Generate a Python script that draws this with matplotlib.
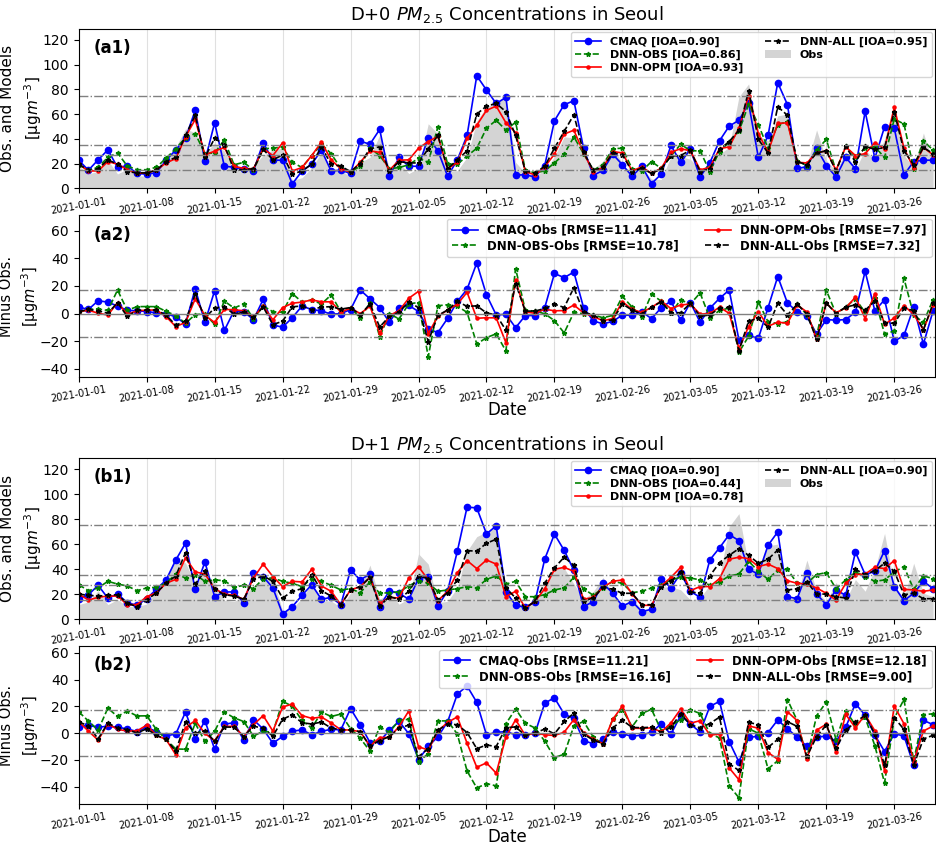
"""
D+0 / D+1 PM2.5 forecasts in Seoul: models vs. observations
"""

import numpy as np
import pandas as pd
import matplotlib
matplotlib.use('Agg')
import matplotlib.pyplot as plt

# daily observations 2021-01-01 .. 2021-03-31
obs = [18, 11.6, 13.7, 22.7, 11.6, 15.6, 10, 9.9, 12, 22.7,
       33.4, 48, 45, 28.3, 36.4, 30, 15, 14, 18.4, 26.6,
       31, 32.5, 6.5, 8.5, 16.6, 28.8, 14.5, 14.6, 9.1, 21,
       25, 43.2, 16, 20.6, 11.9, 16.3, 52.2, 44, 13.1, 14.2,
       25.1, 54.4, 66, 69.6, 74, 21, 12.2, 10.6, 14.1, 25.6,
       41.6, 40.8, 28.1, 15.6, 22, 33.3, 20, 11, 16.4, 7.5,
       7.1, 25.6, 25.8, 23.4, 15.4, 16.7, 27.4, 33.3, 74, 84.4,
       43, 38.4, 58.6, 60, 14.8, 19.3, 47.2, 22.7, 14, 29.3,
       14.7, 31.6, 22.3, 39.7, 68.6, 26.6, 16.8, 44.7, 20.7, 18]

# D+0 forecasts, 2021-01-01 .. 2021-03-30
d0_cmaq = [22.7, 14.6, 23, 31, 17, 18, 12, 11.4, 12.5, 22.7,
           31, 40.5, 63, 22, 53, 17.8, 17, 15.5, 14, 36.8,
           22.7, 22.7, 3.5, 14, 19.5, 30.8, 14, 14.6, 12, 38,
           35.7, 47.6, 9.7, 25, 17.8, 17.8, 41, 30.3, 9.7, 23,
           42.7, 91, 79.5, 68.6, 73.5, 10.8, 10.8, 9.2, 18.4, 54.6,
           67.6, 70.8, 32.4, 10.3, 14.6, 27.6, 19, 9.7, 17.8, 3.8,
           11.4, 34.6, 21, 31.4, 9.2, 20.5, 38.4, 50.3, 55, 68.6,
           25, 42.7, 85.4, 67.6, 16.2, 17.3, 32.4, 18.4, 9.2, 25,
           15.7, 62.2, 24.3, 49.7, 48.6, 10.8, 21.6, 22.7, 22.7]
d0_dnn_obs = [19, 14.6, 17, 25, 28.6, 18, 15, 15, 17, 24.3,
              32, 41, 44.3, 28, 28.6, 39, 19, 21, 14.6, 32,
              32.4, 33.5, 21, 16.8, 26.5, 35.7, 28, 16, 13, 18,
              32.4, 26.5, 15.7, 16.8, 19, 24.3, 21, 49.7, 19.5, 19.5,
              26, 32.4, 48.6, 55, 47, 53.5, 14.6, 12.4, 14, 20.5,
              27.6, 41.6, 28, 14.6, 19, 32, 32.4, 15.7, 14, 21.6,
              16, 26, 35.7, 30.3, 30.3, 13.5, 29.7, 37.3, 46, 68,
              51.4, 32.4, 51.4, 54, 22, 18.4, 30.8, 39.5, 14, 34,
              25.4, 32.4, 33.5, 24.9, 56, 52, 15.7, 38.4, 30.8]
d0_dnn_opm = [19.5, 14, 14, 21.6, 19.5, 15, 12, 12.4, 14.6, 20.5,
              24, 41.6, 55.7, 27, 30, 33, 17.8, 16, 15.7, 32,
              26.5, 36.8, 14, 16.8, 26.5, 37.3, 23, 15.7, 13, 21,
              30.3, 29, 14.6, 22.7, 23, 32.4, 37.8, 42, 15.7, 21,
              40.5, 51, 63, 66.5, 53, 45, 13.5, 10.8, 17.3, 27.6,
              43.8, 47, 28.6, 13.5, 16.8, 29.7, 28.6, 14, 17.3, 12,
              16.2, 29.2, 32, 30.3, 15, 16.8, 32, 33.5, 48.6, 75,
              44.3, 29.2, 52.4, 53, 21, 20.5, 28.6, 30.3, 14.6, 33.5,
              26.5, 28, 36.8, 32, 65.4, 32.4, 16.2, 33, 27]
d0_dnn_all = [19.5, 14.6, 15.7, 23, 19.5, 13.5, 12.4, 12.4, 14.6, 21.6,
              25, 42.7, 59, 25, 40.5, 35, 14.6, 15, 15.7, 31.4,
              23, 27, 11.4, 14, 19.5, 33.5, 19.5, 17.8, 13.5, 20,
              32, 33.5, 14, 21.6, 20.5, 20.5, 32, 42.7, 15.7, 23,
              30.3, 60, 66.5, 68.6, 62, 42.7, 14, 12.4, 17.8, 32.4,
              46, 59.5, 29, 14.6, 16.8, 28.6, 27, 13.5, 16.2, 12,
              15.7, 26, 26.5, 30.8, 13.5, 15.7, 31.4, 37.8, 47, 79,
              39.5, 28.6, 66, 59, 21.6, 19, 28.6, 30.3, 14, 34,
              21, 34, 31.4, 33, 61.6, 30.3, 19, 33, 28]

# D+1 forecasts, 2021-01-01 .. 2021-03-30
d1_cmaq = [16.3, 19.5, 27, 16.8, 20, 13.1, 11, 16.3, 23.8, 31.3,
           47.3, 60.7, 23.8, 45.7, 17.9, 21.7, 21.7, 13.1, 36.6, 34,
           24.9, 4, 9.9, 19, 27.5, 15.8, 17.4, 11.5, 39.3, 31.3,
           36.1, 9.9, 22.7, 20.6, 15.8, 32.4, 34, 10.4, 22.7, 54.3,
           89.6, 89, 68.2, 74.6, 22, 11, 9.4, 14, 48, 68,
           55, 39, 9.9, 14, 28.6, 20.6, 10.4, 14, 6, 7.8,
           32.4, 24.9, 36.6, 22.2, 17.4, 47.3, 57, 67.6, 62.8, 39.8,
           36, 59, 69.8, 17.9, 16.3, 37.2, 20, 11.5, 23.3, 19,
           53.7, 35.6, 38.2, 54.8, 26, 14.7, 20.6, 30.2, 24.3]
d1_dnn_obs = [27.5, 22.7, 24.9, 30.2, 28, 26.5, 22.7, 24.9, 25.4, 28.6,
              36.1, 32.9, 35.6, 30.2, 31.3, 30.7, 25.4, 27, 24.3, 32.4,
              32.9, 30.2, 28.6, 26, 32.4, 30.2, 27, 23.3, 24.3, 21.1,
              29.7, 20.6, 21.1, 21.7, 26.5, 30.7, 28.6, 22.2, 23.3, 24.3,
              26, 24.9, 31.8, 34.5, 28, 30.2, 17.9, 17.9, 19.5, 23.3,
              24.9, 33.4, 24.3, 19, 24.9, 30.2, 28.6, 21.1, 22.2, 24.9,
              27.5, 31.3, 33.4, 32.9, 31.3, 27, 29.7, 34.5, 36, 46.3,
              38.2, 31.8, 39.3, 39.8, 28.6, 28.6, 35.6, 37.2, 24.3, 31.3,
              37.7, 34, 30.2, 31.3, 37.7, 42, 23.8, 34.5, 32.4]
d1_dnn_opm = [20, 15.2, 17.4, 18.4, 18.4, 11.5, 11.5, 17.9, 21, 28.6,
              31.8, 49, 37.7, 36.1, 24.3, 20, 19, 15.8, 32.9, 44,
              34, 26, 30.2, 29.7, 39.8, 26.5, 22.2, 11.5, 23.3, 26,
              33.4, 12.6, 17.4, 16.8, 32.9, 42, 31.3, 14.7, 22.2, 37.2,
              46.8, 40.4, 47.3, 44, 18, 22.2, 8.8, 14.2, 24.3, 39.8,
              41.4, 38.2, 15.8, 17.4, 25.4, 30.2, 31.3, 20, 11, 11,
              26.5, 33.4, 41.4, 22.7, 26, 26, 32.4, 47.9, 49.5, 48.4,
              42, 44, 40.4, 30.7, 28.6, 28, 24.9, 20.6, 15.2, 28.6,
              35.6, 36, 41.4, 40.4, 46.8, 23.8, 23.3, 22.2, 23.3]
d1_dnn_all = [20, 19, 18.4, 19, 19.5, 12.6, 9.9, 15.2, 21, 28.6,
              34.5, 53.2, 28, 38.2, 23.8, 19.5, 18.4, 15.8, 31.8, 34.5,
              30.2, 16.8, 22.2, 24.3, 35.6, 22.7, 18.4, 11.5, 23.3, 26,
              33.4, 10.4, 17.9, 15.8, 22.2, 34.5, 32.4, 15.2, 21.1, 31.3,
              54.8, 54.3, 60.7, 63.9, 25, 16.8, 8.8, 14.2, 28.6, 41,
              49.5, 43, 14.7, 16.8, 25.4, 23.8, 20.6, 20.6, 11.5, 11.5,
              26, 30.2, 37.7, 21.7, 20.6, 34.5, 45.2, 51, 56.4, 51,
              44.7, 47.9, 55.3, 23.3, 24.3, 29.7, 20, 20, 17.9, 16.8,
              39.8, 35.6, 38.8, 44.7, 38.2, 19.5, 20.6, 16.3, 16.3]

ioa_d0 = ['0.90', '0.86', '0.93', '0.95']
ioa_d1 = ['0.90', '0.44', '0.78', '0.90']
rmse_d0 = ['11.41', '10.78', '7.97', '7.32']
rmse_d1 = ['11.21', '16.16', '12.18', '9.00']

names = ['CMAQ', 'DNN-OBS', 'DNN-OPM', 'DNN-ALL']
styles = [dict(color='blue', ls='-', marker='o', ms=4.5),
          dict(color='green', ls='--', marker='*', ms=3.5),
          dict(color='red', ls='-', marker='.', ms=4.5),
          dict(color='black', ls='--', marker='*', ms=3.5)]

dates = pd.date_range('2021-01-01', '2021-03-30', freq='D')
tick_dates = pd.date_range('2021-01-01', periods=13, freq='7D')
tick_labels = [d.strftime('%Y-%m-%d') for d in tick_dates]
xlim = (dates[0], dates[-1] + pd.Timedelta(hours=5))

unit = '[μg$m^{-3}$]'


def style_xaxis(ax, label_x):
    ax.set_xlim(*xlim)
    ax.set_xticks(tick_dates)
    ax.set_xticklabels(tick_labels, rotation=10, fontsize=7)
    ax.tick_params(axis='x', pad=2)
    ax.grid(axis='x', color='0.88', lw=0.8)
    ax.set_axisbelow(True)
    ax.tick_params(axis='y', labelsize=10)
    ax.yaxis.set_label_coords(label_x, 0.5)


def draw_pair(ax1, ax2, obs_vals, models, ioa, rmse, tags, title, ylim2):
    obs_vals = np.array(obs_vals)

    # upper panel: concentrations
    ax1.fill_between(dates, 0, obs_vals, color='0.83', lw=0, label='Obs')
    for name, vals, st, v in zip(names, models, styles, ioa):
        ax1.plot(dates, vals, lw=1.2, label='%s [IOA=%s]' % (name, v), **st)
    for h in [15, 27, 35, 75]:
        ax1.axhline(h, color='gray', ls='-.', lw=1)
    ax1.set_ylim(0, 129)
    ax1.set_yticks(range(0, 121, 20))
    ax1.set_ylabel('Obs. and Models\n' + unit, fontsize=11, linespacing=1.4)
    ax1.set_title(title, fontsize=13)
    ax1.text(0.017, 0.88, tags[0], transform=ax1.transAxes,
             fontsize=12, fontweight='bold', va='center')
    h, l = ax1.get_legend_handles_labels()
    h = h[1:] + h[:1]
    l = l[1:] + l[:1]
    ax1.legend(h, l, ncol=2, loc='upper right',
               prop={'weight': 'bold', 'size': 8},
               borderaxespad=0.3, columnspacing=2.0, handlelength=2.3,
               labelspacing=0.25)
    style_xaxis(ax1, -0.041)

    # lower panel: model minus obs
    for name, vals, st, v in zip(names, models, styles, rmse):
        ax2.plot(dates, np.array(vals) - obs_vals, lw=1.2,
                 label='%s-Obs [RMSE=%s]' % (name, v), **st)
    ax2.axhline(0, color='gray', lw=1)
    for h in [17, -17]:
        ax2.axhline(h, color='gray', ls='-.', lw=1)
    ax2.set_ylim(*ylim2)
    ax2.set_yticks(range(-40, 61, 20))
    ax2.set_ylabel('Minus Obs.\n' + unit, fontsize=10.5, linespacing=1.3)
    ax2.set_xlabel('Date', fontsize=12, labelpad=-2)
    ax2.text(0.017, 0.88, tags[1], transform=ax2.transAxes,
             fontsize=12, fontweight='bold', va='center')
    ax2.legend(ncol=2, loc='upper right',
               prop={'weight': 'bold', 'size': 8.5},
               borderaxespad=0.3, columnspacing=2.2, handlelength=2.2,
               labelspacing=0.25)
    style_xaxis(ax2, -0.044)


def main():
    fig = plt.figure(figsize=(9.37, 8.48), dpi=100)
    left, width = 0.084, 0.914
    ax_a1 = fig.add_axes([left, 0.778, width, 0.188])
    ax_a2 = fig.add_axes([left, 0.556, width, 0.190])
    ax_b1 = fig.add_axes([left, 0.270, width, 0.190])
    ax_b2 = fig.add_axes([left, 0.052, width, 0.186])

    draw_pair(ax_a1, ax_a2, obs[:-1],
              [d0_cmaq, d0_dnn_obs, d0_dnn_opm, d0_dnn_all],
              ioa_d0, rmse_d0, ['(a1)', '(a2)'],
              'D+0 $PM_{2.5}$ Concentrations in Seoul', (-45.5, 71))
    # D+1 panels are compared with the next day's observation
    draw_pair(ax_b1, ax_b2, obs[1:],
              [d1_cmaq, d1_dnn_obs, d1_dnn_opm, d1_dnn_all],
              ioa_d1, rmse_d1, ['(b1)', '(b2)'],
              'D+1 $PM_{2.5}$ Concentrations in Seoul', (-53, 65))

    fig.savefig('out.png', dpi=100)


if __name__ == '__main__':
    main()
